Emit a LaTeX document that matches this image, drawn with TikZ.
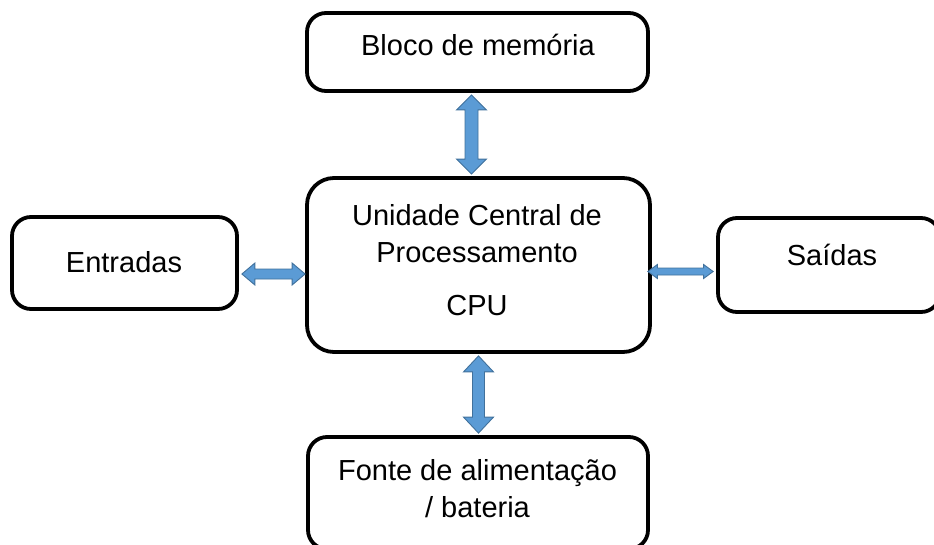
\documentclass[tikz,border=0pt]{standalone}
\usepackage{fontspec}
\setmainfont{Liberation Sans}
\usetikzlibrary{calc}

\definecolor{arrowfill}{RGB}{91,155,213}
\definecolor{arrowline}{RGB}{65,113,156}

\tikzset{
  block/.style={draw=black, line width=3.8pt, rectangle, rounded corners=#1, fill=white, inner sep=0pt},
  block/.default=19pt,
  lbl/.style={anchor=base, inner sep=0pt, font=\fontsize{29pt}{37pt}\selectfont},
  blockarrow/.style={fill=arrowfill, draw=arrowline, line width=0.9pt, line join=miter},
}

% vertical double block arrow between two points (x taken from the first)
% #1 upper end, #2 lower end, #3 half shaft, #4 half head, #5 head length
\newcommand\vblockarrow[5]{%
  \path[blockarrow] let \p1=(#1), \p2=(#2) in
    (\x1,\y1) -- (\x1+#4,\y1-#5) -- (\x1+#3,\y1-#5) -- (\x1+#3,\y2+#5)
    -- (\x1+#4,\y2+#5) -- (\x1,\y2) -- (\x1-#4,\y2+#5) -- (\x1-#3,\y2+#5)
    -- (\x1-#3,\y1-#5) -- (\x1-#4,\y1-#5) -- cycle;}
% horizontal double block arrow between two points (y taken from the first)
% #1 left end, #2 right end, #3 half shaft, #4 half head, #5 head length
\newcommand\hblockarrow[5]{%
  \path[blockarrow] let \p1=(#1), \p2=(#2) in
    (\x1,\y1) -- (\x1+#5,\y1+#4) -- (\x1+#5,\y1+#3) -- (\x2-#5,\y1+#3)
    -- (\x2-#5,\y1+#4) -- (\x2,\y1) -- (\x2-#5,\y1-#4) -- (\x2-#5,\y1-#3)
    -- (\x1+#5,\y1-#3) -- (\x1+#5,\y1-#4) -- cycle;}

\begin{document}
\begin{tikzpicture}[x=1pt, y=-1pt]
  \useasboundingbox (0,0) rectangle (934,544);
  \begin{scope}
    \clip (0,0) rectangle (934,544);

    % boxes
    \node[block, minimum width=341pt, minimum height=78pt] (mem) at (477.5,52) {};
    \node[block=27pt, minimum width=343pt, minimum height=174pt] (cpu) at (478.5,265) {};
    \node[block, minimum width=225pt, minimum height=92pt] (ent) at (124.5,263) {};
    \node[block, minimum width=222pt, minimum height=94pt] (sai) at (829,265) {};
    \node[block, minimum width=340pt, minimum height=112pt] (psu) at (478,493) {};

    % labels
    \node[lbl] (memT) at (478,55) {Bloco de memória};
    \node[lbl] (cpuT1) at (477,225) {Unidade Central de};
    \node[lbl] (cpuT2) at (477,262) {Processamento};
    \node[lbl] (cpuT3) at (477,315) {CPU};
    \node[lbl] (entT) at (124,272) {Entradas};
    \node[lbl] (saiT) at (832,265) {Saídas};
    \node[lbl] (psuT1) at (477.5,480) {Fonte de alimentação};
    \node[lbl] (psuT2) at (477.5,517) {/ bateria};

    % connectors
    \coordinate (m1) at ($(mem.south)+(-6,2)$);
    \coordinate (m2) at ($(cpu.north)+(-7,-2)$);
    \vblockarrow{m1}{m2}{6.5pt}{15pt}{15pt}

    \coordinate (p1) at ($(cpu.south)+(0,2)$);
    \coordinate (p2) at ($(psu.north)+(0,-2)$);
    \vblockarrow{p1}{p2}{6pt}{15pt}{16pt}

    \coordinate (e1) at ($(ent.east)+(3,11)$);
    \coordinate (e2) at ($(cpu.west)+(0,9)$);
    \hblockarrow{e1}{e2}{5pt}{11pt}{13pt}

    \coordinate (s1) at ($(cpu.east)+(-4,6.5)$);
    \coordinate (s2) at ($(sai.west)+(-3,6.5)$);
    \hblockarrow{s1}{s2}{3.5pt}{7pt}{9.5pt}
  \end{scope}
\end{tikzpicture}
\end{document}
